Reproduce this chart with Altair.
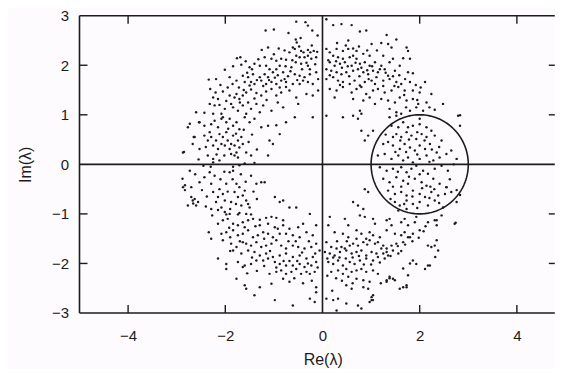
import altair as alt
import pandas as pd

# ---- eigenvalue estimates (Re, Im) ----
pts_top_left = [
    (-0.54, 2.88), (-0.35, 2.87), (-1.17, 2.70), (-1.00, 2.72), (-0.70, 2.65), (-0.21, 2.70),
    (-0.55, 2.52), (-0.53, 2.46), (-1.12, 2.36), (-0.90, 2.34), (-0.61, 2.36), (-0.57, 2.33),
    (-0.48, 2.38), (-0.44, 2.29), (-0.39, 2.26), (-0.30, 2.31), (-0.25, 2.26), (-0.18, 2.29),
    (-0.11, 2.27), (-1.25, 2.31), (-0.68, 2.26),
    (-1.76, 2.14), (-1.69, 2.16), (-1.19, 2.16), (-1.05, 2.13), (-0.95, 2.09), (-0.85, 2.13),
    (-0.75, 2.11), (-0.54, 2.19), (-0.47, 2.16), (-0.37, 2.16), (-0.30, 2.19), (-0.23, 2.13),
    (-0.13, 2.16), (-0.55, 2.06), (-0.44, 2.03), (-0.30, 1.99), (-1.67, 2.01), (-1.84, 1.98),
    (-1.50, 1.96), (-1.40, 2.03), (-1.29, 1.99), (-1.16, 1.99), (-1.09, 1.92), (-0.95, 1.92),
    (-0.88, 1.99), (-0.76, 1.98), (-0.64, 1.96), (-0.26, 1.92), (-2.01, 1.91),
    (-1.64, 1.79), (-1.53, 1.76), (-1.43, 1.82), (-1.29, 1.76), (-1.19, 1.82), (-1.12, 1.76),
    (-1.02, 1.86), (-0.92, 1.80), (-0.81, 1.86), (-0.71, 1.78), (-0.57, 1.82), (-0.47, 1.79),
    (-0.37, 1.76), (-0.26, 1.82), (-0.13, 1.86), (-0.09, 1.72), (-2.34, 1.71), (-2.19, 1.72),
    (-1.91, 1.76), (-1.77, 1.69), (-1.60, 1.66), (-1.50, 1.59), (-1.47, 1.66), (-1.40, 1.62),
    (-1.26, 1.69), (-1.16, 1.62), (-1.05, 1.66), (-0.95, 1.62), (-0.85, 1.69), (-0.75, 1.66),
    (-0.61, 1.62), (-0.47, 1.62), (-0.40, 1.69), (-0.30, 1.66), (-0.20, 1.62),
    (-2.31, 1.52), (-2.05, 1.47), (-1.91, 1.39), (-1.81, 1.35), (-1.77, 1.42), (-1.71, 1.32),
    (-1.64, 1.39), (-1.57, 1.45), (-1.47, 1.51), (-1.36, 1.44), (-1.26, 1.39), (-1.16, 1.47),
    (-1.05, 1.52), (-0.95, 1.39), (-0.85, 1.45), (-0.75, 1.56), (-0.68, 1.49), (-0.54, 1.35),
    (-0.33, 1.42), (-0.20, 1.39), (-0.09, 1.49), (-2.25, 1.35), (-2.15, 1.32),
    (-2.32, 1.22), (-2.22, 1.19), (-2.12, 1.20), (-2.01, 1.12), (-1.88, 1.22), (-1.84, 1.15),
    (-1.74, 1.08), (-1.64, 1.19), (-1.53, 1.25), (-1.47, 1.12), (-1.36, 1.22), (-1.22, 1.19),
    (-1.05, 1.08), (-0.92, 1.25), (-0.81, 1.15), (-0.50, 1.22), (-2.60, 1.05), (-2.43, 1.04),
    (-2.25, 1.02), (-2.08, 1.02), (-1.57, 1.02), (-1.29, 1.05),
    (-1.95, 1.55), (-1.85, 1.62), (-1.72, 1.55), (-1.62, 1.50), (-1.55, 1.85), (-1.45, 1.92),
    (-1.35, 1.70), (-1.22, 1.58), (-1.10, 1.70), (-0.98, 1.75), (-0.88, 1.55), (-0.78, 1.72),
    (-0.66, 1.88), (-0.52, 1.70), (-0.42, 1.92), (-0.33, 2.05), (-0.22, 2.40), (-0.15, 2.02),
    (-0.62, 2.10), (-0.78, 2.30), (-1.00, 2.22), (-1.32, 2.12), (-1.58, 2.08), (-2.10, 1.60),
    (-2.20, 1.45), (-1.98, 1.28), (-1.70, 1.25), (-1.40, 1.33), (-1.15, 1.30), (-0.45, 2.55),
    (-0.10, 2.60), (-0.30, 2.80),
]

pts_top_right = [
    (0.08, 2.93), (0.22, 2.81), (0.39, 2.83), (0.60, 2.81), (0.77, 2.68), (0.90, 2.70),
    (1.32, 2.61), (1.52, 2.52), (0.53, 2.50), (1.01, 2.43), (1.21, 2.45), (1.35, 2.43),
    (1.42, 2.36), (1.73, 2.36), (1.76, 2.29),
    (0.08, 2.33), (0.15, 2.26), (0.29, 2.33), (0.42, 2.29), (0.53, 2.33), (0.63, 2.34),
    (0.70, 2.29), (0.22, 2.19), (0.32, 2.16), (0.42, 2.13), (0.56, 2.16), (0.63, 2.19),
    (0.70, 2.13), (0.84, 2.23), (0.97, 2.19), (1.25, 2.19), (1.45, 2.13), (1.66, 2.14),
    (1.80, 2.13),
    (0.15, 2.06), (0.25, 1.99), (0.36, 2.03), (0.46, 2.06), (0.60, 1.99), (0.77, 2.03),
    (0.87, 2.06), (0.97, 1.99), (1.08, 2.06), (1.21, 1.99), (1.38, 2.06), (1.59, 1.99),
    (0.08, 1.92), (0.18, 1.89), (0.29, 1.86), (0.39, 1.82), (0.49, 1.86), (0.63, 1.89),
    (0.73, 1.92), (0.84, 1.86), (0.94, 1.82), (1.04, 1.89), (1.14, 1.86), (1.28, 1.92),
    (1.35, 1.79), (1.49, 1.89), (1.76, 1.86), (1.86, 1.84),
    (0.08, 1.72), (0.22, 1.76), (0.32, 1.69), (0.42, 1.66), (0.56, 1.62), (0.66, 1.69),
    (0.77, 1.59), (0.87, 1.66), (1.01, 1.69), (1.11, 1.76), (1.25, 1.69), (1.38, 1.72),
    (1.52, 1.66), (1.62, 1.62), (1.80, 1.66), (2.11, 1.66),
    (0.15, 1.52), (0.29, 1.49), (0.42, 1.56), (0.60, 1.45), (0.70, 1.52), (0.80, 1.56),
    (0.90, 1.42), (1.04, 1.49), (1.14, 1.52), (1.28, 1.45), (1.42, 1.49), (1.56, 1.56),
    (1.69, 1.49), (1.86, 1.49), (2.00, 1.45), (2.24, 1.42),
    (0.25, 1.35), (0.63, 1.32), (0.84, 1.29), (0.97, 1.35), (1.08, 1.22), (1.21, 1.32),
    (1.35, 1.29), (1.49, 1.25), (1.59, 1.35), (1.73, 1.29), (1.86, 1.32), (1.97, 1.22),
    (2.14, 1.25), (2.48, 1.22),
    (0.77, 1.08), (1.38, 1.12), (1.52, 1.05), (1.62, 1.02), (1.80, 1.08), (1.93, 1.15),
    (2.07, 1.08), (2.31, 1.10), (2.83, 0.99),
    (0.12, 2.10), (0.28, 2.08), (0.40, 1.95), (0.52, 1.98), (0.68, 2.05), (0.80, 1.95),
    (0.92, 1.90), (1.02, 1.98), (1.18, 1.92), (1.30, 1.85), (1.45, 1.78), (1.58, 1.80),
    (1.70, 1.72), (1.92, 1.60), (2.02, 1.55), (1.68, 1.40), (1.48, 1.58), (1.25, 1.58),
    (1.08, 1.62), (0.95, 1.72), (0.76, 1.78), (0.55, 1.78), (0.36, 1.60), (0.15, 1.80),
    (0.30, 2.45), (0.48, 2.40), (0.75, 2.38), (0.92, 2.30), (1.12, 2.30), (1.95, 1.30),
    (2.20, 1.15), (1.72, 1.15),
]

pts_left = [
    (-2.77, 0.75), (-2.63, 0.55), (-2.53, 0.85), (-2.43, 0.78), (-2.29, 0.81), (-2.22, 0.88),
    (-2.15, 0.75), (-2.08, 0.92), (-2.05, 0.95), (-1.98, 0.85), (-1.91, 0.92), (-1.84, 0.78),
    (-1.77, 0.85), (-1.71, 0.71), (-1.60, 0.95), (-1.50, 0.85), (-1.40, 0.92), (-1.26, 0.75),
    (-1.12, 0.78), (-0.95, 0.79), (-0.75, 0.85), (-0.57, 0.95), (-0.20, 0.95),
    (-2.87, 0.24), (-2.67, 0.41), (-2.53, 0.31), (-2.43, 0.58), (-2.36, 0.48), (-2.29, 0.55),
    (-2.25, 0.38), (-2.19, 0.48), (-2.15, 0.31), (-2.12, 0.61), (-2.08, 0.41), (-2.05, 0.55),
    (-2.01, 0.38), (-1.98, 0.65), (-1.95, 0.48), (-1.91, 0.31), (-1.88, 0.41), (-1.84, 0.58),
    (-1.81, 0.38), (-1.77, 0.24), (-1.74, 0.48), (-1.71, 0.34), (-1.67, 0.55), (-1.64, 0.41),
    (-1.57, 0.24), (-1.74, 0.14), (-1.81, 0.18), (-1.88, 0.21), (-2.25, 0.11), (-2.36, 0.18),
    (-2.12, 0.08), (-1.47, 0.18), (-1.12, 0.18), (-1.09, 0.48), (-1.02, 0.41), (-0.88, 0.61),
    (-2.25, 0.04), (-1.84, -0.05), (-1.71, -0.02), (-1.60, 0.02), (-2.45, -0.03), (-1.40, 0.03),
    (-2.87, -0.46), (-2.73, -0.13), (-2.67, -0.73), (-2.60, -0.83), (-2.53, -0.36), (-2.43, -0.26),
    (-2.32, -0.16), (-2.29, -0.39), (-2.25, -0.56), (-2.22, -0.23), (-2.19, -0.76), (-2.15, -0.66),
    (-2.12, -0.50), (-2.05, -0.60), (-2.01, -0.73), (-1.98, -0.39), (-1.91, -0.16), (-1.88, -0.76),
    (-1.84, -0.13), (-1.81, -0.56), (-1.77, -0.39), (-1.74, -0.66), (-1.71, -0.46), (-1.67, -0.83),
    (-1.64, -0.63), (-1.60, -0.53), (-1.57, -0.73), (-1.53, -0.80), (-1.50, -0.87), (-1.47, -0.23),
    (-1.36, -0.39), (-1.26, -0.36), (-1.19, -0.36), (-0.98, -0.66), (-0.88, -0.76), (-0.81, -0.73),
    (-0.68, -0.87), (-0.54, -0.87), (-2.63, -0.70), (-2.29, -0.90), (-2.08, -0.87),
    (-2.88, -0.29), (-2.83, -0.42), (-2.83, -0.52), (-2.70, -0.46), (-2.77, -0.83), (-2.66, -0.79),
    (-2.56, -0.76), (-2.70, -0.66), (-2.73, 0.82), (-2.54, 0.85), (-2.65, 0.55), (-2.85, 0.25),
    (-2.40, 0.35), (-2.32, 0.65), (-2.18, 0.20), (-2.02, 0.18), (-1.94, 0.72), (-1.78, 0.62),
    (-1.62, 0.70), (-1.52, 0.45), (-1.45, 0.60), (-1.35, 0.30), (-2.55, 0.10), (-2.62, -0.20),
    (-2.48, -0.52), (-2.38, -0.65), (-2.30, -0.05), (-2.10, -0.30), (-2.02, -0.15), (-1.95, -0.55),
    (-1.85, -0.30), (-1.78, -0.80), (-1.68, -0.20), (-1.58, -0.35), (-1.42, -0.55), (-1.35, -0.70),
    (-2.40, -0.85), (-2.15, -0.92), (-1.90, -0.90),
]

pts_right = [
    (0.08, 0.98), (0.42, 0.95), (0.63, 0.98), (0.73, 0.92), (0.80, 1.02), (1.38, 0.95),
    (1.52, 0.98), (1.04, 0.68), (0.94, 0.58), (0.87, 0.48), (0.80, 0.68), (2.00, 0.92),
    (2.79, 0.98), (2.83, 0.78),
    (1.42, 0.78), (1.56, 0.75), (1.66, 0.85), (1.76, 0.75), (1.86, 0.78), (2.00, 0.81),
    (2.14, 0.75), (2.24, 0.68), (1.52, 0.61), (1.62, 0.55), (1.73, 0.65), (1.83, 0.58),
    (1.93, 0.51), (2.04, 0.61), (2.14, 0.55), (2.31, 0.58), (2.45, 0.48),
    (1.25, 0.41), (1.35, 0.45), (1.45, 0.38), (1.59, 0.31), (1.69, 0.41), (1.80, 0.34),
    (1.90, 0.28), (2.00, 0.38), (2.11, 0.31), (2.21, 0.41), (2.35, 0.24), (2.55, 0.21),
    (2.65, 0.28),
    (1.14, 0.18), (1.28, 0.21), (1.42, 0.11), (1.56, 0.18), (1.66, 0.08), (1.76, 0.14),
    (1.86, 0.04), (2.00, 0.11), (2.14, 0.18), (2.28, 0.08), (2.41, 0.14), (2.76, 0.11),
    (1.18, -0.06), (1.32, -0.13), (1.45, -0.09), (1.62, -0.06), (1.73, -0.16), (1.83, -0.09),
    (1.93, -0.03), (2.07, -0.13), (2.17, -0.19), (2.31, -0.09), (2.45, -0.03), (2.58, -0.13),
    (1.25, -0.29), (1.38, -0.36), (1.52, -0.26), (1.66, -0.33), (1.76, -0.39), (1.90, -0.29),
    (2.04, -0.36), (2.14, -0.43), (2.28, -0.29), (2.41, -0.39), (2.55, -0.46),
    (1.35, -0.53), (1.49, -0.60), (1.62, -0.56), (1.73, -0.63), (1.86, -0.53), (2.00, -0.60),
    (2.11, -0.66), (2.24, -0.56), (2.38, -0.63), (2.52, -0.60), (2.65, -0.56),
    (1.49, -0.76), (1.59, -0.83), (1.73, -0.73), (1.86, -0.80), (2.00, -0.76), (2.17, -0.83),
    (2.31, -0.73), (2.48, -0.87), (2.76, -0.76), (1.56, -0.93), (1.73, -0.90),
    (0.63, -0.76), (0.73, -0.83), (0.87, -0.50), (0.94, -0.56), (0.84, -0.90),
    (2.76, -0.52), (2.83, -0.62), (2.74, -1.18), (2.55, -0.46), (2.35, -1.13), (2.45, -1.03),
    (1.30, 0.60), (1.45, 0.55), (1.60, 0.48), (1.78, 0.50), (1.95, 0.65), (2.10, 0.48),
    (2.25, 0.30), (2.40, 0.35), (1.50, 0.25), (1.72, 0.25), (1.95, 0.20), (2.20, 0.05),
    (1.55, -0.15), (1.78, -0.25), (2.00, -0.20), (2.22, -0.45), (1.45, -0.45), (1.62, -0.45),
    (1.85, -0.65), (2.05, -0.48), (2.30, -0.50), (1.68, -0.80), (1.95, -0.88), (2.20, -0.68),
    (2.40, -0.78), (1.40, -0.70), (2.62, -0.30), (2.70, 0.00),
]

pts_bottom_left = [
    (-2.27, -1.03), (-2.01, -0.96), (-1.98, -1.01), (-1.91, -1.00), (-1.74, -1.01), (-1.71, -0.98),
    (-1.57, -1.00), (-1.47, -1.01),
    (-2.05, -1.13), (-1.95, -1.10), (-1.84, -1.20), (-1.74, -1.23), (-1.64, -1.17), (-1.53, -1.13),
    (-1.43, -1.10), (-1.29, -1.12), (-1.16, -1.08), (-1.05, -1.06), (-0.95, -1.08), (-0.81, -1.13),
    (-1.29, -1.23), (-1.12, -1.20), (-0.98, -1.27), (-0.81, -1.23), (-0.68, -1.30), (-0.50, -1.27),
    (-0.40, -1.20), (-0.26, -1.00), (-0.13, -1.23),
    (-2.34, -1.37), (-2.08, -1.40), (-1.98, -1.37), (-1.84, -1.33), (-1.74, -1.43), (-1.64, -1.40),
    (-1.53, -1.33), (-1.43, -1.47), (-1.33, -1.43), (-1.22, -1.37), (-1.12, -1.40), (-1.02, -1.47),
    (-0.88, -1.40), (-0.75, -1.40), (-0.61, -1.43), (-0.47, -1.47), (-0.33, -1.37), (-0.20, -1.43),
    (-2.29, -1.50), (-2.05, -1.53), (-1.88, -1.60), (-1.77, -1.67), (-1.64, -1.57), (-1.57, -1.60),
    (-1.47, -1.64), (-1.36, -1.57), (-1.26, -1.67), (-1.16, -1.64), (-1.05, -1.60), (-0.95, -1.53),
    (-0.85, -1.64), (-0.75, -1.70), (-0.61, -1.64), (-0.50, -1.67), (-0.37, -1.70), (-0.23, -1.67),
    (-0.13, -1.60), (-0.06, -1.74),
    (-1.84, -1.74), (-1.67, -1.80), (-1.53, -1.74), (-1.40, -1.77), (-1.29, -1.84), (-1.16, -1.80),
    (-1.02, -1.87), (-0.88, -1.84), (-0.75, -1.80), (-0.61, -1.87), (-0.47, -1.84), (-0.33, -1.90),
    (-0.20, -1.87),
    (-2.15, -1.90), (-1.98, -2.01), (-1.74, -1.97), (-1.60, -2.04), (-1.47, -2.01), (-1.36, -1.94),
    (-1.22, -1.94), (-1.12, -1.90), (-0.98, -1.97), (-0.88, -2.01), (-0.75, -2.04), (-0.61, -2.04),
    (-0.47, -2.01), (-0.37, -2.07), (-0.23, -2.04), (-0.13, -1.97),
    (-1.98, -2.11), (-1.64, -2.07), (-1.09, -2.21), (-0.95, -2.17), (-0.85, -2.14), (-0.75, -2.21),
    (-0.64, -2.17), (-0.54, -2.11), (-0.44, -2.21), (-0.33, -2.17), (-0.26, -2.21), (-0.16, -2.17),
    (-1.77, -2.31), (-1.60, -2.44), (-1.57, -2.51), (-1.40, -2.64), (-1.29, -2.48), (-1.05, -2.41),
    (-0.68, -2.37), (-0.81, -2.31), (-0.98, -2.74), (-0.61, -2.85), (-0.26, -2.71), (-0.16, -2.78),
    (-0.13, -2.48), (-0.13, -2.58),
    (-2.15, -1.20), (-1.92, -1.28), (-1.60, -1.27), (-1.38, -1.25), (-1.20, -1.50), (-0.92, -1.30),
    (-0.70, -1.55), (-0.55, -1.55), (-0.42, -1.78), (-0.28, -1.55), (-0.15, -1.80), (-1.90, -1.47),
    (-1.70, -1.55), (-1.45, -1.88), (-1.08, -1.75), (-0.80, -1.95), (-0.68, -1.95), (-0.52, -1.95),
    (-0.30, -2.00), (-0.10, -2.08), (-1.20, -2.05), (-0.95, -2.08), (-0.58, -2.30), (-0.40, -2.40),
    (-0.22, -2.35), (-1.55, -2.20), (-1.35, -2.15), (-1.90, -1.75),
]

pts_bottom_right = [
    (0.15, -1.06), (0.46, -1.10), (0.53, -1.23), (0.77, -1.03), (0.87, -1.06), (1.04, -1.10),
    (1.08, -1.20), (1.32, -1.13), (1.38, -1.10), (1.42, -1.23), (1.62, -1.17), (1.69, -1.10),
    (1.76, -1.23), (1.90, -1.17), (1.93, -1.06), (2.17, -1.17), (2.31, -1.13), (2.35, -1.23),
    (2.72, -1.20),
    (0.12, -1.23), (0.25, -1.37), (0.42, -1.40), (0.53, -1.47), (0.70, -1.33), (0.80, -1.40),
    (0.90, -1.50), (0.97, -1.37), (1.04, -1.43), (1.18, -1.47), (1.32, -1.33), (1.49, -1.40),
    (1.62, -1.43), (1.69, -1.37), (1.76, -1.47), (1.86, -1.40), (2.00, -1.33),
    (0.08, -1.57), (0.18, -1.67), (0.29, -1.70), (0.39, -1.67), (0.46, -1.70), (0.56, -1.64),
    (0.63, -1.60), (0.73, -1.64), (0.84, -1.57), (0.97, -1.53), (1.08, -1.60), (1.14, -1.57),
    (1.25, -1.64), (1.32, -1.70), (1.42, -1.64), (1.52, -1.60), (1.66, -1.57), (1.80, -1.47),
    (0.05, -1.77), (0.15, -1.80), (0.25, -1.84), (0.36, -1.77), (0.49, -1.74), (0.60, -1.80),
    (0.70, -1.77), (0.80, -1.74), (0.90, -1.84), (1.01, -1.77), (1.11, -1.80), (1.21, -1.70),
    (1.32, -1.77), (1.45, -1.74), (1.56, -1.80),
    (0.12, -1.97), (0.22, -2.01), (0.32, -1.94), (0.42, -2.04), (0.56, -1.97), (0.66, -2.01),
    (0.77, -1.94), (0.90, -1.90), (1.04, -1.94), (1.14, -1.87), (1.28, -1.90), (1.35, -1.84),
    (1.86, -1.94), (1.93, -2.01), (2.17, -1.64), (2.31, -1.64), (2.38, -1.74), (2.35, -1.53),
    (0.18, -2.17), (0.32, -2.14), (0.42, -2.21), (0.49, -2.11), (0.60, -2.17), (0.70, -2.14),
    (0.80, -2.11), (0.90, -2.17), (1.04, -2.14), (1.14, -2.21), (1.38, -2.27), (1.45, -2.31),
    (1.49, -2.34), (1.76, -2.24), (2.11, -2.11), (2.17, -2.04),
    (0.53, -2.27), (0.70, -2.31), (0.84, -2.34), (0.97, -2.37), (1.32, -2.34), (0.49, -2.44),
    (0.60, -2.51), (0.84, -2.48), (0.94, -2.51), (1.59, -2.51), (1.73, -2.48),
    (0.08, -2.71), (0.22, -2.74), (0.32, -2.71), (0.49, -2.81), (0.73, -2.85), (0.80, -2.91),
    (1.01, -2.68), (1.04, -2.74), (0.97, -2.78), (0.29, -2.95),
    (2.24, -1.67), (2.32, -1.87), (2.21, -2.04), (1.80, -2.00), (1.66, -2.10), (1.38, -2.30),
    (1.32, -2.37), (1.66, -2.48), (1.04, -2.64), (1.01, -2.74), (1.73, -2.44),
    (0.10, -1.90), (0.22, -1.88), (0.35, -1.88), (0.48, -1.90), (0.62, -1.88), (0.75, -1.85),
    (0.85, -2.02), (1.00, -2.02), (1.18, -1.98), (1.25, -1.80), (1.40, -1.85), (1.55, -1.65),
    (1.62, -1.75), (1.70, -1.62), (1.85, -1.55), (1.98, -1.48), (2.08, -1.35), (2.12, -1.25),
    (0.30, -1.55), (0.50, -1.55), (0.70, -1.50), (0.92, -1.62), (0.28, -2.30), (0.40, -2.35),
    (0.62, -2.40), (1.20, -2.40), (0.10, -2.25), (0.20, -2.55),
]

x_ticks = [-4, -2, 0, 2, 4]
y_ticks = [-3, -2, -1, 0, 1, 2, 3]
inner_x_ticks = [-4, -2, 2, 4]
inner_y_ticks = [-2, -1, 1, 2]
x_domain = [-5, 4.78]
y_domain = [-3, 3]
circle_center = (2.0, 0.0)
circle_radius = 1.0

all_pts = (pts_top_left + pts_top_right + pts_left + pts_right
           + pts_bottom_left + pts_bottom_right)
df = pd.DataFrame(all_pts, columns=["re", "im"])

W, H = 475.3, 297.3
INK = "#1c1c1c"
FONT = "Liberation Sans"

xs = alt.Scale(domain=x_domain, nice=False, zero=False)
ys = alt.Scale(domain=y_domain, nice=False, zero=False)

points = alt.Chart(df).mark_circle(size=6, color=INK, opacity=1).encode(
    x=alt.X("re:Q", scale=xs, title="Re(λ)",
            axis=alt.Axis(values=x_ticks, tickSize=0, domain=False, grid=False,
                          labelFontSize=15, labelPadding=16, labelFont=FONT,
                          labelColor=INK, labelFlush=False,
                          titleFont=FONT, titleFontSize=16, titleFontWeight="normal",
                          titleColor=INK, titleBaseline="middle", titleX=243.2,
                          titleY=47)),
    y=alt.Y("im:Q", scale=ys, title="Im(λ)",
            axis=alt.Axis(values=y_ticks, tickSize=0, domain=False, grid=False,
                          labelFontSize=15, labelPadding=11, labelFont=FONT,
                          labelColor=INK, labelFlush=False,
                          titleFont=FONT, titleFontSize=16, titleFontWeight="normal",
                          titleColor=INK, titleBaseline="middle", titleAngle=-90,
                          titleX=-54, titleY=H / 2)),
)

circle = alt.Chart(alt.sequence(0, 361, 2, as_="t")).transform_calculate(
    cx=f"{circle_center[0]} + {circle_radius} * cos(datum.t * PI / 180)",
    cy=f"{circle_center[1]} + {circle_radius} * sin(datum.t * PI / 180)",
).mark_line(color=INK, strokeWidth=1.6).encode(
    x=alt.X("cx:Q", scale=xs), y=alt.Y("cy:Q", scale=ys), order="t:Q"
)

zero_v = alt.Chart().mark_rule(color=INK, strokeWidth=1.6).encode(x=alt.X(datum=0, scale=xs))
zero_h = alt.Chart().mark_rule(color=INK, strokeWidth=1.6).encode(y=alt.Y(datum=0, scale=ys))

frame_left = alt.Chart().mark_rule(color=INK, strokeWidth=1.6).encode(
    x=alt.value(0), y=alt.value(0), y2=alt.value(H))
frame_top = alt.Chart().mark_rule(color=INK, strokeWidth=1.6).encode(
    x=alt.value(0), x2=alt.value(W), y=alt.value(0))
frame_bottom = alt.Chart().mark_rule(color=INK, strokeWidth=1.6).encode(
    x=alt.value(0), x2=alt.value(W), y=alt.value(H))

xt = pd.DataFrame({"v": inner_x_ticks})
yt = pd.DataFrame({"v": inner_y_ticks})
tick_bottom = alt.Chart(xt).mark_rule(color=INK, strokeWidth=1.4).encode(
    x=alt.X("v:Q", scale=xs), y=alt.value(H), y2=alt.value(H - 8))
tick_top = alt.Chart(xt).mark_rule(color=INK, strokeWidth=1.4).encode(
    x=alt.X("v:Q", scale=xs), y=alt.value(0), y2=alt.value(8))
tick_left = alt.Chart(yt).mark_rule(color=INK, strokeWidth=1.4).encode(
    y=alt.Y("v:Q", scale=ys), x=alt.value(0), x2=alt.value(8))
tick_right = alt.Chart(yt).mark_rule(color=INK, strokeWidth=1.4).encode(
    y=alt.Y("v:Q", scale=ys), x=alt.value(W - 6), x2=alt.value(W))

chart = alt.layer(
    points, circle, zero_v, zero_h, frame_left, frame_top, frame_bottom,
    tick_bottom, tick_top, tick_left, tick_right,
).properties(
    width=W, height=H,
    autosize=alt.AutoSizeParams(type="none"),
    padding={"left": 71.5, "top": 7.7, "right": 0, "bottom": 56},
    background="#fdfbfd",
).configure_view(stroke=None)

chart.save("out.html", embed_options={"renderer": "svg", "actions": False})
